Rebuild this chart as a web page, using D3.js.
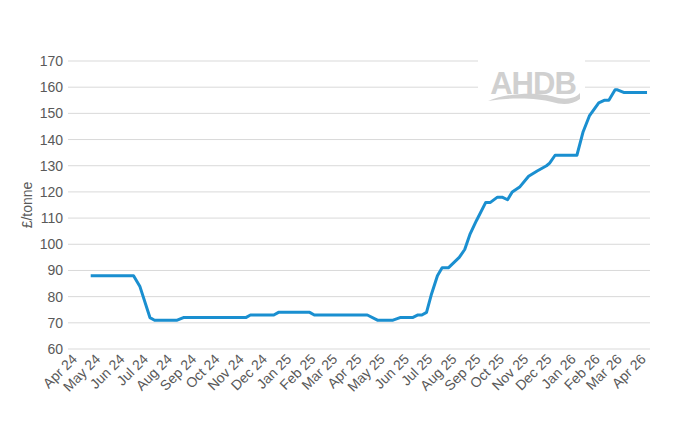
<!DOCTYPE html>
<html><head><meta charset="utf-8">
<script src="https://cdn.jsdelivr.net/npm/d3@7"></script>
<style>body{margin:0;background:#fff}text{font-family:"Liberation Sans",Arial,sans-serif}</style>
</head><body><svg id="c" width="679" height="438"></svg>
<script>
const dates=["2024-04-25","2024-06-19","2024-06-27","2024-07-10","2024-07-16","2024-08-14","2024-08-22","2024-11-10","2024-11-16","2024-12-16","2024-12-22","2025-01-31","2025-02-06","2025-04-15","2025-04-28","2025-05-18","2025-05-27","2025-06-12","2025-06-19","2025-06-24","2025-06-30","2025-07-06","2025-07-14","2025-07-20","2025-07-28","2025-08-11","2025-08-18","2025-08-25","2025-09-02","2025-09-14","2025-09-20","2025-09-29","2025-10-05","2025-10-12","2025-10-18","2025-10-28","2025-11-08","2025-11-19","2025-12-01","2025-12-05","2025-12-12","2026-01-09","2026-01-17","2026-01-25","2026-02-06","2026-02-13","2026-02-19","2026-02-27","2026-03-02","2026-03-10","2026-04-09"];
const values=[88,88,84,72,71,71,72,72,73,73,74,74,73,73,71,71,72,72,73,73,74,80.6,88,91,91,95,98,104,109,116,116,118,118,117,120,122,126,128,130,131,134,134,143,149,154,155,155,159,159,158,158];
const yTicks=[60,70,80,90,100,110,120,130,140,150,160,170];
const yLabel="£/tonne";

const svg=d3.select("#c");
const parse=d3.utcParse("%Y-%m-%d");
const x=d3.scaleUtc().domain([Date.UTC(2024,3,1),Date.UTC(2026,3,1)]).range([72,640.8]);
const y=d3.scaleLinear().domain([60,170]).range([349,61]);
const fmt=d3.utcFormat("%b %y");

svg.append("g").selectAll("line").data(yTicks).join("line")
 .attr("x1",68).attr("x2",650).attr("y1",d=>y(d)).attr("y2",d=>y(d))
 .attr("stroke","#d9d9d9").attr("stroke-width",1);
svg.append("g").selectAll("text").data(yTicks).join("text")
 .attr("x",63).attr("y",d=>y(d)+5).attr("text-anchor","end")
 .attr("font-size",14).attr("fill","#595959").text(d=>d);
svg.append("text").attr("transform","translate(32,205) rotate(-90)")
 .attr("text-anchor","middle").attr("font-size",14).attr("fill","#595959").text(yLabel);

const months=x.ticks(d3.utcMonth.every(1));
svg.append("g").selectAll("text").data(months).join("text")
 .attr("transform",d=>`translate(${x(d)+6},360) rotate(-45)`)
 .attr("text-anchor","end").attr("font-size",14).attr("fill","#595959").text(fmt);

// logo
const lg=svg.append("g");
lg.append("rect").attr("x",478).attr("y",56).attr("width",107).attr("height",50).attr("fill","#fff");
lg.append("text").attr("x",533).attr("y",94).attr("text-anchor","middle").attr("font-size",31)
 .attr("fill","#d0d0d0").attr("font-weight","bold").attr("letter-spacing",-1).text("AHDB");
lg.append("path").attr("d","M488,101 C510,92 540,92 555,97 C565,100 575,99 580,93 L580,99 C572,105 562,105 552,102 C538,98 512,97 488,101 Z").attr("fill","#d0d0d0");

svg.append("path").datum(dates.map((d,i)=>[parse(d),values[i]]))
 .attr("d",d3.line().x(d=>x(d[0])).y(d=>y(d[1])))
 .attr("fill","none").attr("stroke","#1a8fd0").attr("stroke-width",3).attr("stroke-linejoin","round");
</script></body></html>
